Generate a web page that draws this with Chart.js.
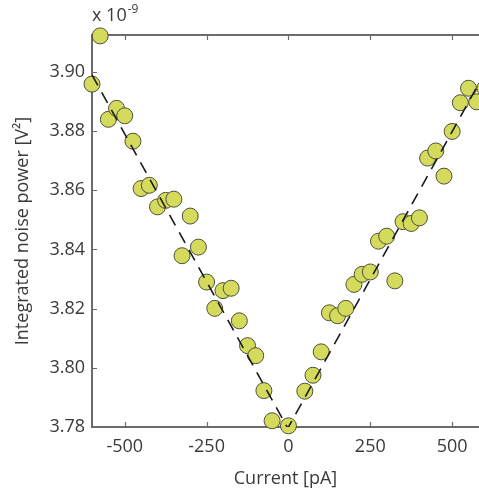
<!DOCTYPE html>
<html>
<head>
<meta charset="utf-8">
<script src="https://cdn.jsdelivr.net/npm/chart.js@4"></script>
<style>
  html, body { margin: 0; padding: 0; background: #ffffff; }
  canvas { display: block; }
</style>
</head>
<body>
<canvas id="chart" width="479" height="493"></canvas>
<script>
// Bias current steps [pA]
const currents = [
  -600, -575, -550, -525, -500, -475, -450, -425, -400, -375, -350, -325,
  -300, -275, -250, -225, -200, -175, -150, -125, -100, -75, -50, 0,
  50, 75, 100, 125, 150, 175, 200, 225, 250, 275, 300, 325,
  350, 375, 400, 425, 450, 475, 500, 525, 550, 575, 600
];
// Integrated noise power [x 1e-9 V^2]
const noisePower = [
  3.8959, 3.9122, 3.8840, 3.8877, 3.8852, 3.8766, 3.8606, 3.8617, 3.8544, 3.8566, 3.8570, 3.8379,
  3.8513, 3.8408, 3.8290, 3.8201, 3.8261, 3.8269, 3.8159, 3.8075, 3.8041, 3.7923, 3.7821, 3.7804,
  3.7921, 3.7975, 3.8054, 3.8186, 3.8176, 3.8201, 3.8282, 3.8316, 3.8324, 3.8428, 3.8445, 3.8294,
  3.8494, 3.8488, 3.8507, 3.8709, 3.8733, 3.8648, 3.8799, 3.8896, 3.8945, 3.8899, 3.8945
];
// V-shaped linear fit through the data
const fitCurrents = [-600, -2, 582];
const fitPower = [3.8990, 3.7796, 3.8962];
// Axis ticks
const xTicks = [-500, -250, 0, 250, 500];
const yTicks = [3.78, 3.80, 3.82, 3.84, 3.86, 3.88, 3.90];

const FONT = '"Open Sans", "DejaVu Sans", sans-serif';
const AXIS_COLOR = '#6b6b6b';
const TEXT_COLOR = '#3a3a3a';

// Boxed axes with inward tick marks, drawn under the markers
const framePlugin = {
  id: 'frame',
  beforeDatasetsDraw(chart) {
    const { ctx, chartArea: { left, top, right, bottom }, scales: { x, y } } = chart;
    ctx.save();
    ctx.strokeStyle = AXIS_COLOR;
    ctx.lineWidth = 2;
    ctx.lineCap = 'butt';
    ctx.beginPath();
    ctx.moveTo(left, top); ctx.lineTo(right, top);
    ctx.moveTo(left, bottom); ctx.lineTo(right, bottom);
    ctx.moveTo(left, top - 1); ctx.lineTo(left, bottom + 1);
    ctx.stroke();
    ctx.lineWidth = 1.2;
    ctx.beginPath();
    xTicks.forEach(v => {
      const px = Math.round(x.getPixelForValue(v)) + 0.5;
      ctx.moveTo(px, bottom); ctx.lineTo(px, bottom - 5);
      ctx.moveTo(px, top); ctx.lineTo(px, top + 5);
    });
    yTicks.forEach(v => {
      const py = Math.round(y.getPixelForValue(v)) + 0.5;
      ctx.moveTo(left, py); ctx.lineTo(left + 5, py);
    });
    ctx.stroke();
    ctx.restore();
  },
  afterDraw(chart) {
    const { ctx, chartArea: { left } } = chart;
    ctx.save();
    ctx.fillStyle = TEXT_COLOR;
    ctx.textBaseline = 'alphabetic';
    ctx.textAlign = 'left';
    ctx.font = '18px ' + FONT;
    const base = 'x 10';
    ctx.fillText(base, left, 21);
    const w = ctx.measureText(base).width;
    ctx.font = '12px ' + FONT;
    ctx.fillText('-9', left + w + 1, 13);
    ctx.restore();
  }
};

new Chart(document.getElementById('chart'), {
  data: {
    datasets: [
      {
        type: 'line',
        data: fitCurrents.map((c, i) => ({ x: c, y: fitPower[i] })),
        borderColor: '#1a1a1a',
        borderWidth: 1.6,
        borderDash: [12, 8],
        pointRadius: 0,
        fill: false,
        tension: 0,
        order: 0
      },
      {
        type: 'scatter',
        data: currents.map((c, i) => ({ x: c, y: noisePower[i] })),
        backgroundColor: '#d3da5c',
        borderColor: '#50503a',
        borderWidth: 1,
        pointRadius: 8,
        pointHoverRadius: 8,
        clip: false,
        order: 1
      }
    ]
  },
  options: {
    responsive: false,
    animation: false,
    devicePixelRatio: 1,
    events: [],
    layout: { autoPadding: false, padding: { left: 0, top: 35, right: 0, bottom: 0 } },
    plugins: { legend: { display: false }, tooltip: { enabled: false } },
    scales: {
      x: {
        type: 'linear',
        min: -600,
        max: 582,
        grid: { display: false, drawTicks: false },
        border: { display: false },
        afterBuildTicks(scale) { scale.ticks = xTicks.map(v => ({ value: v })); },
        afterFit(scale) { scale.height = 66; },
        ticks: {
          font: { family: FONT, size: 18 },
          color: TEXT_COLOR,
          padding: 9,
          maxRotation: 0,
          callback: v => String(v)
        },
        title: {
          display: true,
          text: 'Current [pA]',
          font: { family: FONT, size: 18 },
          color: TEXT_COLOR,
          padding: { top: 0, bottom: 3 }
        }
      },
      y: {
        type: 'linear',
        min: 3.78,
        max: 3.9125,
        grid: { display: false, drawTicks: false },
        border: { display: false },
        afterBuildTicks(scale) { scale.ticks = yTicks.map(v => ({ value: v })); },
        afterFit(scale) { scale.width = 92; },
        ticks: {
          font: { family: FONT, size: 18 },
          color: TEXT_COLOR,
          padding: 7,
          callback: v => Number(v).toFixed(2)
        },
        title: {
          display: true,
          text: 'Integrated noise power [V²]',
          font: { family: FONT, size: 18 },
          color: TEXT_COLOR,
          padding: { top: 12, bottom: 0 }
        }
      }
    }
  },
  plugins: [framePlugin]
});
</script>
</body>
</html>
